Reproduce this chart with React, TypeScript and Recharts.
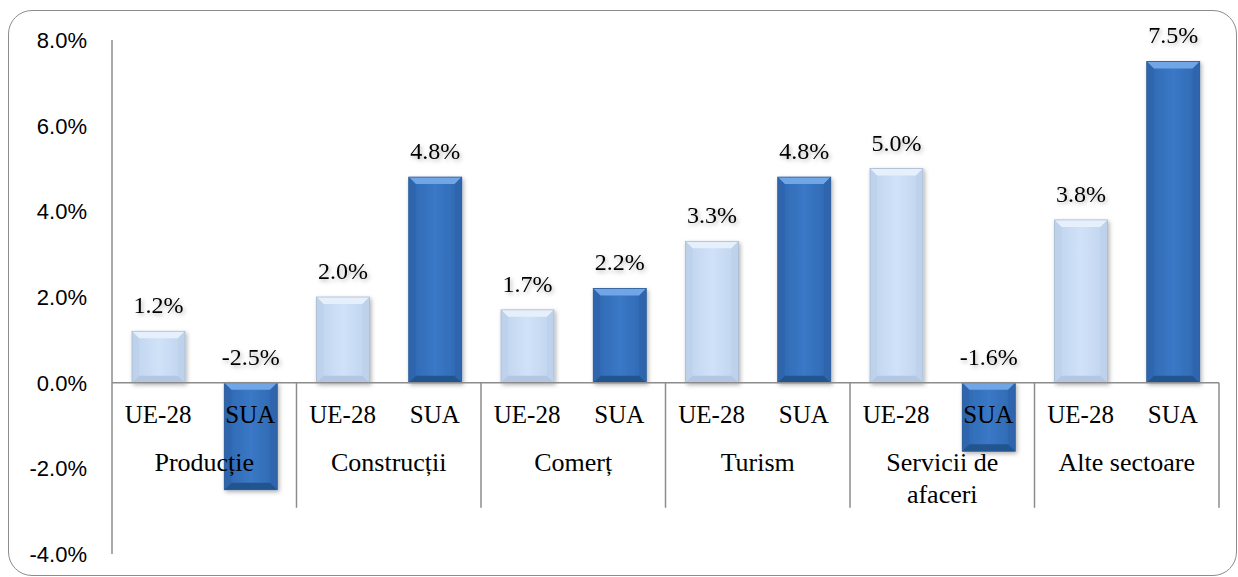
import React from 'react';
import {
  BarChart, Bar, XAxis, YAxis, ReferenceLine, ReferenceDot, Cell,
} from 'recharts';

const categories = ['Producție', 'Construcții', 'Comerț', 'Turism', 'Servicii de\nafaceri', 'Alte sectoare'];
const seriesNames = ['UE-28', 'SUA'];
const ue28 = [1.2, 2.0, 1.7, 3.3, 5.0, 3.8];
const sua = [-2.5, 4.8, 2.2, 4.8, -1.6, 7.5];
const yTicks = [-4, -2, 0, 2, 4, 6, 8];
const separatorDepth = -2.92;

const data = categories.flatMap((c, i) => [
  { x: i * 2 + 0.5, v: ue28[i], s: 0, cat: c },
  { x: i * 2 + 1.5, v: sua[i], s: 1, cat: c },
]);

const W = 1238;
const H = 577;
const SERIF = '"Liberation Serif", "Times New Roman", serif';
const SANS = '"Liberation Sans", Arial, sans-serif';

const palettes = [
  { main: 'url(#gLight)', top: '#E6F0FC', bottom: '#B3C7E2', side: '#BCD0EA', stroke: '#A9BBD2' },
  { main: 'url(#gDark)', top: '#6FA6E6', bottom: '#24558F', side: '#2D64AB', stroke: '#2A5A97' },
];

const BevelBar = (props: any) => {
  const { x, y, width, height, payload } = props;
  if (width == null || height == null) return null;
  const top = Math.min(y, y + height);
  const h = Math.abs(height);
  const p = palettes[payload.s];
  const b = Math.min(7, h / 2);
  return (
    <g filter="url(#barShadow)">
      <rect x={x} y={top} width={width} height={h} fill={p.main} />
      <polygon points={`${x},${top} ${x + width},${top} ${x + width - b},${top + b} ${x + b},${top + b}`} fill={p.top} />
      <polygon points={`${x},${top + h} ${x + width},${top + h} ${x + width - b},${top + h - b} ${x + b},${top + h - b}`} fill={p.bottom} />
      <polygon points={`${x},${top} ${x + b},${top + b} ${x + b},${top + h - b} ${x},${top + h}`} fill={p.side} opacity={0.7} />
      <polygon points={`${x + width},${top} ${x + width - b},${top + b} ${x + width - b},${top + h - b} ${x + width},${top + h}`} fill={p.side} opacity={0.7} />
      <rect x={x} y={top} width={width} height={h} fill="none" stroke={p.stroke} strokeWidth={0.8} />
      <text
        x={x + width / 2}
        y={top - 18}
        textAnchor="middle"
        fill="#000"
        filter="none"
        style={{ fontFamily: SERIF, fontSize: 24 }}
      >
        {`${Number(payload.v).toFixed(1)}%`}
      </text>
    </g>
  );
};

const SeriesLabel = (props: any) => {
  const vb = props.viewBox || {};
  const cx = vb.x + (vb.width || 0) / 2;
  const cy = vb.y + (vb.height || 0) / 2;
  return (
    <text x={cx} y={cy + 40} textAnchor="middle" fill="#000" style={{ fontFamily: SERIF, fontSize: 25 }}>
      {props.text}
    </text>
  );
};

const GroupLabel = (props: any) => {
  const vb = props.viewBox || {};
  const cx = vb.x + (vb.width || 0) / 2;
  const cy = vb.y + (vb.height || 0) / 2;
  const lines = String(props.text).split('\n');
  return (
    <text x={cx} y={cy + 88} textAnchor="middle" fill="#000" style={{ fontFamily: SERIF, fontSize: 26 }}>
      {lines.map((l, i) => (
        <tspan key={i} x={cx} dy={i === 0 ? 0 : 32}>{l}</tspan>
      ))}
    </text>
  );
};

const YTick = (props: any) => {
  const { x, y, payload } = props;
  return (
    <text x={x} y={y} dy={8} textAnchor="end" fill="#000" style={{ fontFamily: SANS, fontSize: 22 }}>
      {`${Number(payload.value).toFixed(1)}%`}
    </text>
  );
};

export default function App() {
  return (
    <div style={{ position: 'absolute', left: 0, top: 0, width: W, height: H, background: '#fff' }}>
      <svg width={0} height={0} style={{ position: 'absolute' }}>
        <defs>
          <linearGradient id="gLight" x1="0" y1="0" x2="1" y2="0">
            <stop offset="0" stopColor="#BFD3EE" />
            <stop offset="0.5" stopColor="#D0E2F8" />
            <stop offset="1" stopColor="#BFD3EE" />
          </linearGradient>
          <linearGradient id="gDark" x1="0" y1="0" x2="1" y2="0">
            <stop offset="0" stopColor="#2F67B0" />
            <stop offset="0.5" stopColor="#3A78C6" />
            <stop offset="1" stopColor="#2F67B0" />
          </linearGradient>
          <filter id="barShadow" x="-20%" y="-20%" width="140%" height="140%">
            <feDropShadow dx="1.5" dy="2" stdDeviation="2" floodColor="#000" floodOpacity="0.3" />
          </filter>
        </defs>
      </svg>
      <div
        style={{
          position: 'absolute', left: 8, top: 10, width: 1229, height: 566,
          boxSizing: 'border-box', border: '1.5px solid #8c8c8c', borderRadius: 24,
        }}
      />
      <div style={{ position: 'absolute', left: 0, top: 0 }}>
        <BarChart width={W} height={H} data={data} margin={{ top: 40, right: 19, bottom: 23, left: 0 }}>
          <XAxis dataKey="x" type="number" domain={[0, 12]} ticks={[0, 1, 2, 3, 4, 5, 6, 7, 8, 9, 10, 11, 12]} hide />
          <YAxis
            type="number"
            domain={[-4, 8]}
            ticks={yTicks}
            width={112}
            tickLine={false}
            tickSize={0}
            tickMargin={25}
            axisLine={{ stroke: '#8c8c8c', strokeWidth: 1.5 }}
            tick={<YTick />}
            interval={0}
          />
          <ReferenceLine y={0} stroke="#8c8c8c" strokeWidth={1.5} ifOverflow="extendDomain" />
          {[2, 4, 6, 8, 10, 12].map((k) => (
            <ReferenceLine
              key={k}
              segment={[{ x: k, y: 0 }, { x: k, y: separatorDepth }]}
              stroke="#8c8c8c"
              strokeWidth={1.5}
            />
          ))}
          <Bar dataKey="v" barSize={53} isAnimationActive={false} shape={<BevelBar />}>
            {data.map((d, i) => (
              <Cell key={i} fill={d.s === 0 ? '#C9DCF4' : '#3570BD'} />
            ))}
          </Bar>
          {data.map((d, i) => (
            <ReferenceDot
              key={`s${i}`}
              x={d.x}
              y={0}
              r={0}
              fill="none"
              stroke="none"
              label={<SeriesLabel text={seriesNames[d.s]} />}
            />
          ))}
          {categories.map((c, i) => (
            <ReferenceDot
              key={`c${i}`}
              x={i * 2 + 1}
              y={0}
              r={0}
              fill="none"
              stroke="none"
              label={<GroupLabel text={c} />}
            />
          ))}
        </BarChart>
      </div>
    </div>
  );
}
